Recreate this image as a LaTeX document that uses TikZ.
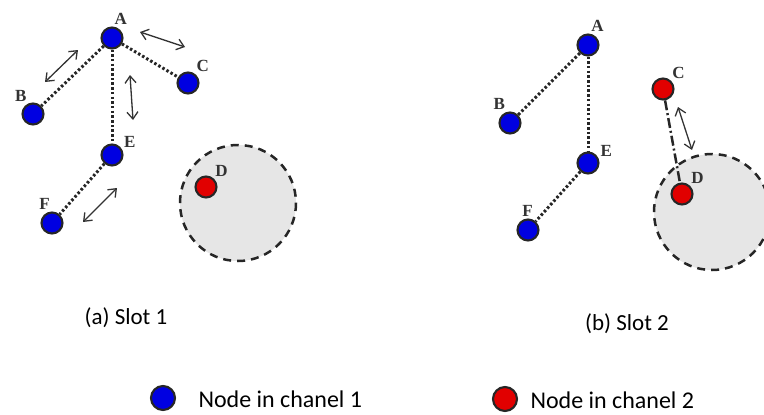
\documentclass[tikz,border=0pt]{standalone}
\usepackage{fontspec}
\setmainfont{Carlito}
\newfontfamily\lblfont{Liberation Serif}
\usetikzlibrary{arrows.meta}

\definecolor{nodeblue}{RGB}{0,0,225}
\definecolor{nodered}{RGB}{225,0,0}
\definecolor{range}{RGB}{230,230,230}

\begin{document}
\begin{tikzpicture}[x=1pt,y=-1pt,
		sensor/.style={circle, draw=black!85, line width=2.1pt, minimum size=21pt, inner sep=0pt},
		chone/.style={sensor, fill=nodeblue},
		chtwo/.style={sensor, fill=nodered},
		lbl/.style={font=\lblfont\bfseries\fontsize{17}{17}\selectfont, text=black!80, inner sep=1pt},
		every label/.style={lbl},
		label distance=1pt,
		link/.style={line width=3pt, black!85, dash pattern=on 2.5pt off 2.2pt},
		swap/.style={line width=1.3pt, black!80, {Straight Barb[length=7pt,width=11pt]}-{Straight Barb[length=7pt,width=11pt]}},
		zone/.style={fill=range, draw=black!85, line width=2.5pt, dash pattern=on 8pt off 6pt},
		caption/.style={font=\fontsize{23}{23}\selectfont}]
	\useasboundingbox (0,0) rectangle (764,415);

	% interference range around D
	\draw[zone] (238,203) circle (58);
	\draw[zone] (712,212) circle (58);

	% slot 1
	\node[chone, label={83:A}]  (a1) at (112,38)  {};
	\node[chone, label={115:B}] (b1) at (33,114)  {};
	\node[chone, label={54:C}]  (c1) at (188,83)  {};
	\node[chone, label={30:E}]  (e1) at (112,155) {};
	\node[chone, label={95:F}]  (f1) at (52,223)  {};
	\node[chtwo, label={49:D}]  (d1) at (206,187) {};

	\draw[link] (a1) -- (b1);
	\draw[link] (a1) -- (c1);
	\draw[link] (a1) -- (e1);
	\draw[link] (e1) -- (f1);

	\coordinate (ab1) at (45,82);  \coordinate (ab2) at (78,50);
	\coordinate (ac1) at (140,32); \coordinate (ac2) at (185,47);
	\coordinate (ae1) at (130,75); \coordinate (ae2) at (133,120);
	\coordinate (ef1) at (83,222); \coordinate (ef2) at (117,188);
	\draw[swap] (ab1) -- (ab2);
	\draw[swap] (ac1) -- (ac2);
	\draw[swap] (ae1) -- (ae2);
	\draw[swap] (ef1) -- (ef2);

	\node[caption] (cap1) at (126,318) {(a) Slot 1};

	% slot 2
	\node[chone, label={80:A}]  (a2) at (588,45)  {};
	\node[chone, label={108:B}] (b2) at (510,123) {};
	\node[chtwo, label={50:C}]  (c2) at (663,89)  {};
	\node[chone, label={25:E}]  (e2) at (588,163) {};
	\node[chone, label={92:F}]  (f2) at (528,230) {};
	\node[chtwo, label={50:D}]  (d2) at (682,194) {};

	\draw[link] (a2) -- (b2);
	\draw[link] (a2) -- (e2);
	\draw[link] (e2) -- (f2);
	\draw[line width=2.5pt, black!85, dash pattern=on 10pt off 3pt on 2pt off 3pt] (c2) -- (d2);

	\coordinate (cd1) at (678,107); \coordinate (cd2) at (692,150);
	\draw[swap] (cd1) -- (cd2);

	\node[caption] (cap2) at (627,324) {(b) Slot 2};

	% legend
	\node[chone, minimum size=24pt] (key1) at (163,398) {};
	\node[caption, font=\fontsize{24}{24}\selectfont, anchor=west] (txt1) at (195,399) {Node in chanel 1};
	\node[chtwo, minimum size=24pt] (key2) at (505,399) {};
	\node[caption, font=\fontsize{24}{24}\selectfont, anchor=west] (txt2) at (527,400) {Node in chanel 2};
\end{tikzpicture}
\end{document}
